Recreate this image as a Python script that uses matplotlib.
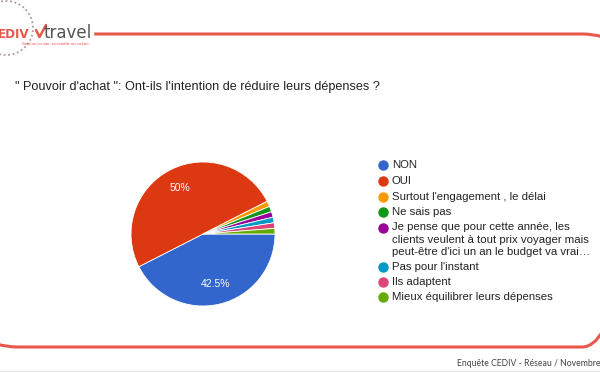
import matplotlib
matplotlib.use("Agg")
import matplotlib.pyplot as plt
from matplotlib.patches import FancyBboxPatch, Arc

labels = ["NON", "OUI", "Surtout l'engagement , le délai", "Ne sais pas",
          "Je pense que pour cette année, les\nclients veulent à tout prix voyager mais\npeut-être d'ici un an le budget va vrai…",
          "Pas pour l'instant", "Ils adaptent", "Mieux équilibrer leurs dépenses"]
values = [42.5, 50, 1.25, 1.25, 1.25, 1.25, 1.25, 1.25]
colors = ["#3366cc", "#dc3912", "#ff9900", "#109618", "#990099", "#0099c6", "#dd4477", "#66aa00"]
title = "\" Pouvoir d'achat \": Ont-ils l'intention de réduire leurs dépenses ?"
footer = "Enquête CEDIV - Réseau / Novembre 2021"

plt.rcParams['font.family'] = ['Liberation Sans', 'DejaVu Sans']

W, H = 600, 372
fig = plt.figure(figsize=(6, 3.72), dpi=100)
bg = fig.add_axes([0, 0, 1, 1])
bg.set_xlim(0, W)
bg.set_ylim(H, 0)
bg.axis('off')

red = "#e8574a"
# rounded frame
frame = FancyBboxPatch((-30, 34), W + 60, 313, boxstyle="round,pad=0,rounding_size=48",
                       fill=False, edgecolor=red, linewidth=2.2, zorder=1)
bg.add_patch(frame)
# white cover behind logo
bg.fill_between([-5, 93], 0, 50, color="white", zorder=2)
# logo
bg.add_patch(Arc((6, 28), 54, 54, theta1=-110, theta2=110, color="#a89a96", lw=1.3, ls=(0, (1, 1.5)), zorder=3))
bg.text(-2, 38, "EDIV", color=red, fontsize=8.6, fontweight='bold', family='DejaVu Sans', zorder=4, va='baseline')
bg.plot([36, 39.5, 46], [30, 37, 25], color=red, lw=1.8, zorder=4, solid_capstyle='round')
bg.text(44, 38, "travel", color="#555555", fontsize=12, family='DejaVu Sans', zorder=4, va='baseline')
bg.text(22, 44.5, "Seul on va vite, ensemble on va loin.", color=red, fontsize=3.1, zorder=4, va='baseline')

bg.text(15, 90, title, fontsize=9.1, color="#222222", va='baseline')
bg.text(457, 366, footer, fontsize=6.2, color="#444444", va='baseline', family='Lato')
bg.plot([0, W], [370.5, 370.5], color="#dddddd", lw=0.6)

# pie
cx, cy, r = 203, 234, 72
pax = fig.add_axes([(cx - r) / W, (H - cy - r) / H, 2 * r / W, 2 * r / H])
pax.pie(values, colors=colors, startangle=0, counterclock=False,
        autopct=lambda p: (f"{p:g}%" if p > 5 else ""), pctdistance=0.72,
        wedgeprops=dict(edgecolor="white", linewidth=0.6),
        textprops=dict(color="white", fontsize=7.5))
pax.set_xlim(-1, 1)
pax.set_ylim(-1, 1)
pax.set_aspect('equal')

# legend
ys = [165, 181, 197, 212, 228, 267, 282, 297]
for lab, col, y in zip(labels, colors, ys):
    bg.plot(383, y, 'o', color=col, markersize=6.5, zorder=5)
    if '\n' in lab:
        bg.text(392, y - 6, lab, fontsize=8.2, color="#222222", va='top', linespacing=1.32, zorder=5)
    else:
        bg.text(392, y, lab, fontsize=8.2, color="#222222", va='center', zorder=5)

fig.savefig("out.png", dpi=100)
